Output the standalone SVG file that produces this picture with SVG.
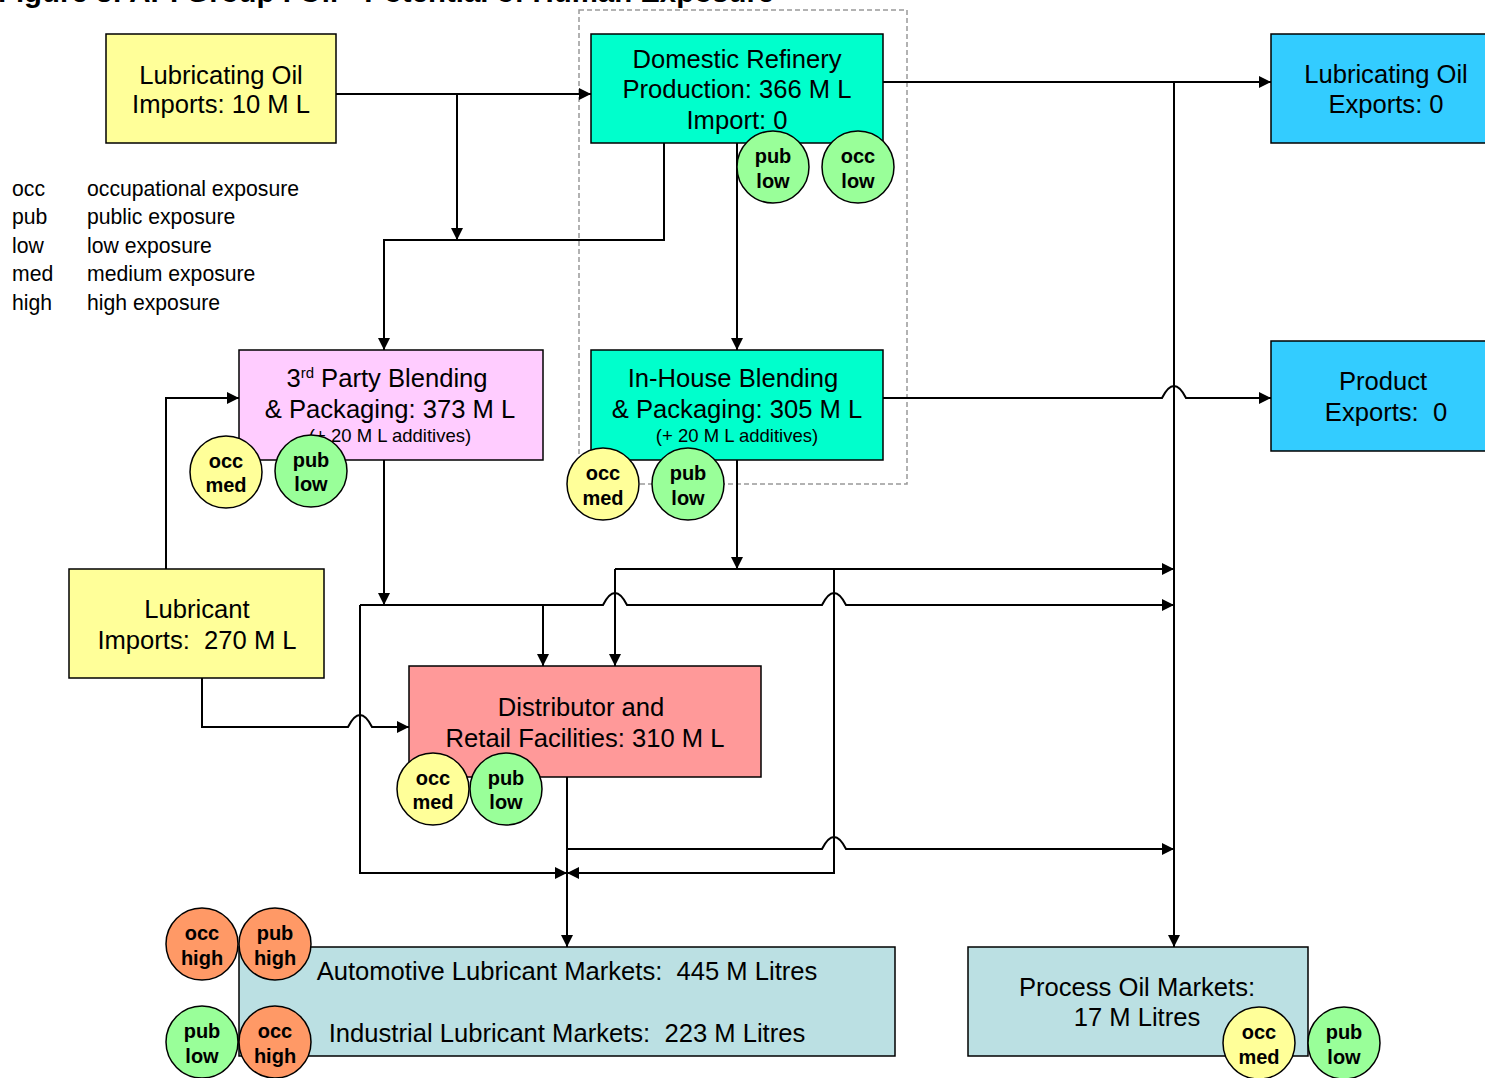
<svg xmlns="http://www.w3.org/2000/svg" width="1485" height="1078" viewBox="0 0 1485 1078">
<style>
.box{stroke:#000;stroke-width:1.5}
.t{font-family:"Liberation Sans",Arial,sans-serif;font-size:25.6px;fill:#000;text-anchor:middle}
.s{font-family:"Liberation Sans",Arial,sans-serif;font-size:18.5px;fill:#000;text-anchor:middle}
.lg{font-family:"Liberation Sans",Arial,sans-serif;font-size:21.2px;fill:#000}
.cl{font-family:"Liberation Sans",Arial,sans-serif;font-size:20px;font-weight:bold;fill:#000;text-anchor:middle}
.c{stroke:#000;stroke-width:1.5}
.yel{fill:#FFFF99}.grn{fill:#99FF99}.org{fill:#FF9966}
.ln{fill:none;stroke:#000;stroke-width:2}
</style>
<defs>
<marker id="ah" markerUnits="userSpaceOnUse" markerWidth="13" markerHeight="13" refX="12" refY="6" orient="auto">
<path d="M0,0 L12,6 L0,12 z" fill="#000"/>
</marker>
</defs>
<rect width="1485" height="1078" fill="#fff"/>
<text x="-2" y="2" font-family="'Liberation Sans',Arial,sans-serif" font-size="29.4" font-weight="bold">Figure 3: API Group I Oil - Potential of Human Exposure</text>

<g id="legend">
<text class="lg" x="12" y="196">occ</text><text class="lg" x="87" y="196">occupational exposure</text>
<text class="lg" x="12" y="224">pub</text><text class="lg" x="87" y="224">public exposure</text>
<text class="lg" x="12" y="253">low</text><text class="lg" x="87" y="253">low exposure</text>
<text class="lg" x="12" y="281">med</text><text class="lg" x="87" y="281">medium exposure</text>
<text class="lg" x="12" y="310">high</text><text class="lg" x="87" y="310">high exposure</text>
</g>

<rect id="refinery-boundary" x="579" y="10" width="328" height="474" fill="none" stroke="#999" stroke-width="1.5" stroke-dasharray="5,3"/>

<g id="connectors">
<path class="ln" d="M336,94 H591" marker-end="url(#ah)"/>
<path class="ln" d="M457,94 V240" marker-end="url(#ah)"/>
<path class="ln" d="M664,143 V240 H384 V350" marker-end="url(#ah)"/>
<path class="ln" d="M737,143 V350" marker-end="url(#ah)"/>
<path class="ln" d="M883,82 H1271" marker-end="url(#ah)"/>
<path class="ln" d="M1174,82 V947" marker-end="url(#ah)"/>
<path class="ln" d="M883,398 H1162 Q1174,374 1186,398 H1271" marker-end="url(#ah)"/>
<path class="ln" d="M166,569 V398 H239" marker-end="url(#ah)"/>
<path class="ln" d="M202,678 V727 H348 Q360,703 372,727 H409" marker-end="url(#ah)"/>
<path class="ln" d="M384,460 V605" marker-end="url(#ah)"/>
<path class="ln" d="M360,605 H603 Q615,581 627,605 H822 Q834,581 846,605 H1174" marker-end="url(#ah)"/>
<path class="ln" d="M360,605 V873 H567" marker-end="url(#ah)"/>
<path class="ln" d="M543,605 V666" marker-end="url(#ah)"/>
<path class="ln" d="M737,460 V569" marker-end="url(#ah)"/>
<path class="ln" d="M615,569 H1174" marker-end="url(#ah)"/>
<path class="ln" d="M615,569 V666" marker-end="url(#ah)"/>
<path class="ln" d="M834,569 V873 H567" marker-end="url(#ah)"/>
<path class="ln" d="M567,777 V947" marker-end="url(#ah)"/>
<path class="ln" d="M567,849 H822 Q834,825 846,849 H1174" marker-end="url(#ah)"/>
</g>

<g id="lub-oil-imports">
<rect class="box" x="106" y="34" width="230" height="109" fill="#FFFF99"/>
<text class="t" x="221" y="84">Lubricating Oil</text>
<text class="t" x="221" y="113">Imports: 10 M L</text>
</g>

<g id="domestic-refinery">
<rect class="box" x="591" y="34" width="292" height="109" fill="#00FFCC"/>
<text class="t" x="737" y="68">Domestic Refinery</text>
<text class="t" x="737" y="98">Production: 366 M L</text>
<text class="t" x="737" y="129">Import: 0</text>
<circle class="c grn" cx="773" cy="167" r="36"/>
<text class="cl" x="773" y="163">pub</text><text class="cl" x="773" y="188">low</text>
<circle class="c grn" cx="858" cy="167" r="36"/>
<text class="cl" x="858" y="163">occ</text><text class="cl" x="858" y="188">low</text>
</g>

<g id="lub-oil-exports">
<rect class="box" x="1271" y="34" width="216" height="109" fill="#33CCFF"/>
<text class="t" x="1386" y="83">Lubricating Oil</text>
<text class="t" x="1386" y="113">Exports: 0</text>
</g>

<g id="product-exports">
<rect class="box" x="1271" y="341" width="216" height="110" fill="#33CCFF"/>
<text class="t" x="1383" y="390">Product</text>
<text class="t" x="1386" y="421" xml:space="preserve">Exports:  0</text>
</g>

<g id="third-party-blending">
<rect class="box" x="239" y="350" width="304" height="110" fill="#FFCCFF"/>
<text class="t" x="387" y="387">3<tspan font-size="15" dy="-9">rd</tspan><tspan dy="9"> Party Blending</tspan></text>
<text class="t" x="390" y="418">&amp; Packaging: 373 M L</text>
<text class="s" x="390" y="442">(+ 20 M L additives)</text>
<circle class="c yel" cx="226" cy="472" r="36"/>
<text class="cl" x="226" y="468">occ</text><text class="cl" x="226" y="492">med</text>
<circle class="c grn" cx="311" cy="471" r="36"/>
<text class="cl" x="311" y="467">pub</text><text class="cl" x="311" y="491">low</text>
</g>

<g id="in-house-blending">
<rect class="box" x="591" y="350" width="292" height="110" fill="#00FFCC"/>
<text class="t" x="733" y="387">In-House Blending</text>
<text class="t" x="737" y="418">&amp; Packaging: 305 M L</text>
<text class="s" x="737" y="442">(+ 20 M L additives)</text>
<circle class="c yel" cx="603" cy="484" r="36"/>
<text class="cl" x="603" y="480">occ</text><text class="cl" x="603" y="505">med</text>
<circle class="c grn" cx="688" cy="484" r="36"/>
<text class="cl" x="688" y="480">pub</text><text class="cl" x="688" y="505">low</text>
</g>

<g id="lubricant-imports">
<rect class="box" x="69" y="569" width="255" height="109" fill="#FFFF99"/>
<text class="t" x="197" y="618">Lubricant</text>
<text class="t" x="197" y="649" xml:space="preserve">Imports:  270 M L</text>
</g>

<g id="distributor">
<rect class="box" x="409" y="666" width="352" height="111" fill="#FF9999"/>
<text class="t" x="581" y="716">Distributor and</text>
<text class="t" x="585" y="747">Retail Facilities: 310 M L</text>
<circle class="c yel" cx="433" cy="789" r="36"/>
<text class="cl" x="433" y="785">occ</text><text class="cl" x="433" y="809">med</text>
<circle class="c grn" cx="506" cy="789" r="36"/>
<text class="cl" x="506" y="785">pub</text><text class="cl" x="506" y="809">low</text>
</g>

<g id="lubricant-markets">
<rect class="box" x="239" y="947" width="656" height="109" fill="#BBE0E3"/>
<text class="t" x="567" y="980" xml:space="preserve">Automotive Lubricant Markets:  445 M Litres</text>
<text class="t" x="567" y="1042" xml:space="preserve">Industrial Lubricant Markets:  223 M Litres</text>
<circle class="c org" cx="202" cy="944" r="36"/>
<text class="cl" x="202" y="940">occ</text><text class="cl" x="202" y="965">high</text>
<circle class="c org" cx="275" cy="944" r="36"/>
<text class="cl" x="275" y="940">pub</text><text class="cl" x="275" y="965">high</text>
<circle class="c grn" cx="202" cy="1042" r="36"/>
<text class="cl" x="202" y="1038">pub</text><text class="cl" x="202" y="1063">low</text>
<circle class="c org" cx="275" cy="1042" r="36"/>
<text class="cl" x="275" y="1038">occ</text><text class="cl" x="275" y="1063">high</text>
</g>

<g id="process-oil-markets">
<rect class="box" x="968" y="947" width="340" height="109" fill="#BBE0E3"/>
<text class="t" x="1137" y="996">Process Oil Markets:</text>
<text class="t" x="1137" y="1026">17 M Litres</text>
<circle class="c yel" cx="1259" cy="1043" r="36"/>
<text class="cl" x="1259" y="1039">occ</text><text class="cl" x="1259" y="1064">med</text>
<circle class="c grn" cx="1344" cy="1043" r="36"/>
<text class="cl" x="1344" y="1039">pub</text><text class="cl" x="1344" y="1064">low</text>
</g>
</svg>
